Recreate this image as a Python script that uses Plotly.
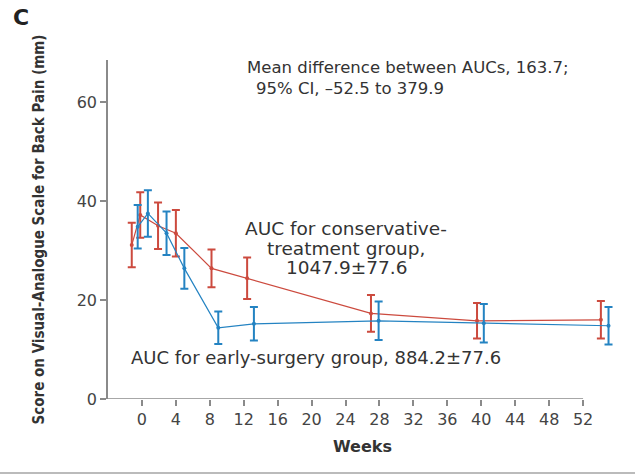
import plotly.graph_objects as go

# Data
cons_weeks = [-1.2, -0.2, 1.9, 4.0, 8.2, 12.4, 27.0, 39.5, 54.1]
cons_mean = [31.1, 37.2, 35.0, 33.5, 26.4, 24.4, 17.3, 15.8, 16.0]
cons_err = [4.5, 4.6, 4.7, 4.7, 3.8, 4.2, 3.7, 3.6, 3.8]

surg_weeks = [-0.5, 0.7, 2.9, 5.0, 9.0, 13.2, 27.9, 40.3, 55.0]
surg_mean = [34.8, 37.5, 33.5, 26.4, 14.4, 15.2, 15.8, 15.3, 14.8]
surg_err = [4.4, 4.7, 4.4, 4.1, 3.3, 3.4, 3.9, 3.9, 3.8]

x_ticks = list(range(0, 53, 4))
y_ticks = [0, 20, 40, 60]
x_range = [-4, 56]
y_range = [0, 68.5]

RED = "#cc4a3e"
BLUE = "#2483c2"
GRAY = "#8a8a8a"
TXT = "#333333"
FONT = "DejaVu Sans"

fig = go.Figure()
fig.add_trace(go.Scatter(
    x=cons_weeks, y=cons_mean, mode="lines+markers",
    line=dict(color=RED, width=1.2), marker=dict(color=RED, size=4),
    error_y=dict(type="data", array=cons_err, color=RED, thickness=2, width=4),
    showlegend=False))
fig.add_trace(go.Scatter(
    x=surg_weeks, y=surg_mean, mode="lines+markers",
    line=dict(color=BLUE, width=1.2), marker=dict(color=BLUE, size=4),
    error_y=dict(type="data", array=surg_err, color=BLUE, thickness=2, width=4),
    showlegend=False))

fig.update_layout(
    width=635, height=476,
    margin=dict(l=108, r=18, t=60, b=77),
    paper_bgcolor="white", plot_bgcolor="white",
    font=dict(family=FONT, color=TXT, size=14),
    xaxis=dict(range=x_range, tickvals=x_ticks, ticks="outside", ticklen=6,
               tickcolor=GRAY, tickwidth=1.5, showline=False, showgrid=False,
               zeroline=False, tickfont=dict(size=16, color="#444"),
               title=dict(text="<b>Weeks</b>", font=dict(size=16, color=TXT), standoff=12)),
    yaxis=dict(range=y_range, tickvals=y_ticks, ticks="outside", ticklen=6,
               tickcolor=GRAY, tickwidth=1.5, showline=True, linecolor=GRAY,
               linewidth=1.5, showgrid=False, zeroline=False,
               tickfont=dict(size=16, color="#444"),
               title=dict(text="<b>Score on Visual-Analogue Scale for Back Pain (mm)</b>",
                          font=dict(size=15, color=TXT, family="DejaVu Sans Condensed"),
                          standoff=28)),
)

# x axis line from range start to last tick
fig.add_shape(type="line", xref="x", yref="y", x0=x_range[0], x1=x_ticks[-1],
              y0=0, y1=0, line=dict(color=GRAY, width=1.5))
# bottom frame line
fig.add_shape(type="line", xref="paper", yref="paper", x0=-0.22, x1=1.05,
              y0=-0.218, y1=-0.218, line=dict(color="#bbbbbb", width=2))

fig.add_annotation(text="<b>C</b>", xref="paper", yref="paper", x=-0.19, y=1.125,
                   xanchor="left", yanchor="middle",
                   showarrow=False, font=dict(size=22, color="#222"))

for txt, x, y in [("Mean difference between AUCs, 163.7;", 12.2, 66.9),
                  ("95% CI, \u201352.5 to 379.9", 13.2, 62.8)]:
    fig.add_annotation(text=txt, xref="x", yref="y", x=x, y=y, xanchor="left",
                       yanchor="middle", showarrow=False,
                       font=dict(size=16.5, color=TXT))
for txt, y in [("AUC for conservative-", 34.5), ("treatment group,", 30.5),
               ("1047.9\u00b177.6", 26.5)]:
    fig.add_annotation(text=txt, xref="x", yref="y", x=24.1, y=y, xanchor="center",
                       yanchor="middle", showarrow=False,
                       font=dict(size=18.5, color=TXT))
fig.add_annotation(text="AUC for early-surgery group, 884.2\u00b177.6",
                   xref="x", yref="y", x=-1.5, y=8.3, xanchor="left", yanchor="middle",
                   showarrow=False, font=dict(size=18, color=TXT))

fig.write_html("out.html")
